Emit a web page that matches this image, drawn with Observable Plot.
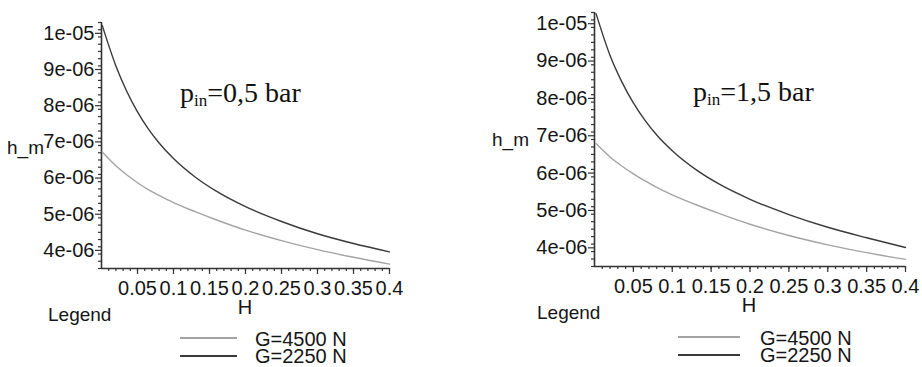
<!DOCTYPE html>
<html>
<head>
<meta charset="utf-8">
<script src="https://cdn.jsdelivr.net/npm/d3@7"></script>
<script src="https://cdn.jsdelivr.net/npm/@observablehq/plot@0.6"></script>
<style>
  body { margin: 0; background: #fff; }
  #fig { position: relative; width: 922px; height: 367px; overflow: hidden; background: #fff; }
  #overlay { pointer-events: none; }
</style>
</head>
<body>
<div id="fig"></div>
<script>
// Film thickness h_m versus H, for two loads, at two inlet pressures.
const seriesNames = ["G=4500 N", "G=2250 N"];
const seriesColors = ["#a4a4a4", "#3a3a3a"];

// p_in = 0,5 bar
const H_p05 = [0.001, 0.02, 0.035, 0.05, 0.065, 0.08, 0.1, 0.13, 0.16, 0.2, 0.25, 0.3, 0.35, 0.4];
const G4500_p05 = [6.72e-6, 6.34e-6, 6.09e-6, 5.87e-6, 5.68e-6, 5.52e-6, 5.32e-6, 5.07e-6, 4.84e-6, 4.56e-6, 4.27e-6, 4.02e-6, 3.81e-6, 3.62e-6];
const G2250_p05 = [10.22e-6, 9.10e-6, 8.40e-6, 7.83e-6, 7.36e-6, 6.97e-6, 6.54e-6, 6.03e-6, 5.63e-6, 5.21e-6, 4.80e-6, 4.46e-6, 4.19e-6, 3.96e-6];

// p_in = 1,5 bar
const H_p15 = [0.002, 0.02, 0.035, 0.05, 0.065, 0.08, 0.1, 0.13, 0.16, 0.2, 0.25, 0.3, 0.35, 0.4];
const G4500_p15 = [6.79e-6, 6.43e-6, 6.19e-6, 5.98e-6, 5.79e-6, 5.62e-6, 5.42e-6, 5.16e-6, 4.92e-6, 4.63e-6, 4.33e-6, 4.08e-6, 3.87e-6, 3.69e-6];
const G2250_p15 = [10.27e-6, 9.15e-6, 8.45e-6, 7.88e-6, 7.41e-6, 7.02e-6, 6.60e-6, 6.10e-6, 5.71e-6, 5.30e-6, 4.89e-6, 4.55e-6, 4.27e-6, 4.01e-6];

const xTicks = [0.05, 0.1, 0.15, 0.2, 0.25, 0.3, 0.35, 0.4];
const xTickLabels = ["0.05", "0.1", "0.15", "0.2", "0.25", "0.3", "0.35", "0.4"];
const yTicks = [4e-6, 5e-6, 6e-6, 7e-6, 8e-6, 9e-6, 1e-5];
const yTickLabels = ["4e-06", "5e-06", "6e-06", "7e-06", "8e-06", "9e-06", "1e-05"];

const xDomain = [0, 0.4];
const yDomain = [3.5e-6, 1.03e-5];
const xMinor = d3.range(1, 41).map(i => i / 100);
const yMinor = d3.range(35, 104, 2).map(i => i * 1e-7);

const xLabelOf = new Map(xTicks.map((t, i) => [t, xTickLabels[i]]));
const yLabelOf = new Map(yTicks.map((t, i) => [t, yTickLabels[i]]));

const sans = '"Liberation Sans", Arial, Helvetica, sans-serif';
const axisInk = "#333";
const textInk = "#151515";

function panel(H, light, dark, m) {
  const rows = [];
  H.forEach((h, i) => {
    rows.push({H: h, h: light[i], G: seriesNames[0]});
    rows.push({H: h, h: dark[i], G: seriesNames[1]});
  });
  return Plot.plot({
    width: m.width,
    height: 367,
    marginLeft: m.left,
    marginRight: m.right,
    marginTop: m.top,
    marginBottom: m.bottom,
    style: {fontFamily: sans, fontSize: "20px", color: textInk, background: "transparent", overflow: "visible"},
    x: {domain: xDomain},
    y: {domain: yDomain},
    color: {domain: seriesNames, range: seriesColors},
    marks: [
      Plot.axisX(xMinor, {tickSize: 3, fill: "none", stroke: axisInk, strokeWidth: 1.2, label: null}),
      Plot.axisX(xTicks, {tickSize: 6, tickPadding: 6, stroke: axisInk, strokeWidth: 1.2, fill: textInk,
        tickFormat: d => xLabelOf.get(d), label: null}),
      Plot.axisY(yMinor, {tickSize: 3, fill: "none", stroke: axisInk, strokeWidth: 1.2, label: null}),
      Plot.axisY(yTicks, {tickSize: 6, tickPadding: 1, stroke: axisInk, strokeWidth: 1.2, fill: textInk,
        tickFormat: d => yLabelOf.get(d), label: null}),
      Plot.ruleX([xDomain[0]], {stroke: axisInk, strokeWidth: 1.6}),
      Plot.ruleY([yDomain[0]], {stroke: axisInk, strokeWidth: 1.6}),
      Plot.line(rows, {x: "H", y: "h", z: "G", stroke: "G", strokeWidth: 1.4, curve: "monotone-x"})
    ]
  });
}

const fig = document.getElementById("fig");

const left = panel(H_p05, G4500_p05, G2250_p05, {width: 460, left: 101, right: 71, top: 22, bottom: 99});
left.style.position = "absolute";
left.style.top = "0px";
left.style.left = "0px";
fig.appendChild(left);

const right = panel(H_p15, G4500_p15, G2250_p15, {width: 462, left: 134, right: 17, top: 12, bottom: 101});
right.style.position = "absolute";
right.style.top = "0px";
right.style.left = "460px";
fig.appendChild(right);

// Axis names, pressure annotations and legends
const overlay = d3.select(fig).append("svg")
  .attr("id", "overlay")
  .attr("width", 922).attr("height", 367)
  .style("position", "absolute").style("top", "0px").style("left", "0px");

const notes = [
  {hm: [7, 154], Hx: [245, 314], legend: [48, 321], swatch: [180, 237, 338, 356], keyX: 255, keyY: [346, 363], p: [180, 102], pin: "=0,5 bar"},
  {hm: [492, 146], Hx: [749, 312], legend: [537, 319], swatch: [678, 740, 337, 355], keyX: 760, keyY: [345, 362], p: [693, 101], pin: "=1,5 bar"}
];

for (const n of notes) {
  const g = overlay.append("g").attr("font-family", sans).attr("font-size", 19).attr("fill", textInk);
  g.append("text").attr("x", n.hm[0]).attr("y", n.hm[1]).text("h_m");
  g.append("text").attr("x", n.Hx[0]).attr("y", n.Hx[1]).attr("text-anchor", "middle").attr("font-size", 20).text("H");
  g.append("text").attr("x", n.legend[0]).attr("y", n.legend[1]).text("Legend");
  seriesNames.forEach((name, i) => {
    g.append("line")
      .attr("x1", n.swatch[0]).attr("x2", n.swatch[1])
      .attr("y1", n.swatch[2 + i]).attr("y2", n.swatch[2 + i])
      .attr("stroke", seriesColors[i]).attr("stroke-width", 1.8);
    g.append("text").attr("x", n.keyX).attr("y", n.keyY[i]).attr("font-size", 20).text(name);
  });
  const t = overlay.append("text")
    .attr("x", n.p[0]).attr("y", n.p[1])
    .attr("font-family", '"Liberation Serif", "Times New Roman", serif')
    .attr("font-size", 28).attr("fill", "#111");
  t.append("tspan").text("p");
  t.append("tspan").attr("font-size", 17).attr("dy", 4).text("in");
  t.append("tspan").attr("dy", -4).text(n.pin);
}
</script>
</body>
</html>
